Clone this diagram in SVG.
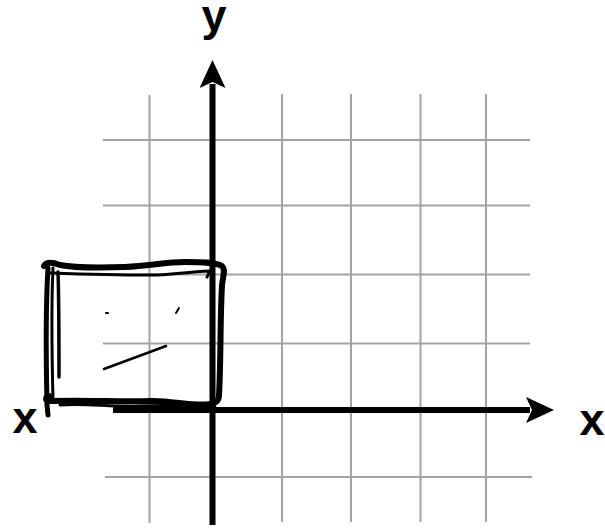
<svg xmlns="http://www.w3.org/2000/svg" width="605" height="529" viewBox="0 0 605 529">
<style>
.grid line{stroke:#a3a3a3;stroke-width:2}
.axis{stroke:#000;stroke-width:6;fill:none}
.lbl{font-family:"Liberation Sans",Arial,sans-serif;font-weight:bold;font-size:45px;fill:#000;text-anchor:middle}
.ink{fill:none;stroke:#000;stroke-linecap:round;stroke-linejoin:round}
</style>
<defs>
<marker id="ah" viewBox="0 0 28 26" refX="4" refY="13" markerWidth="28" markerHeight="26" markerUnits="userSpaceOnUse" orient="auto">
<path d="M0,0 L28,13 L0,26 L6,13 Z" fill="#000"/>
</marker>
</defs>
<rect width="605" height="529" fill="#fff"/>
<g id="grid" class="grid">
<line x1="149.5" y1="95" x2="149.5" y2="523"/>
<line x1="282" y1="94" x2="282" y2="522"/>
<line x1="351" y1="94" x2="351" y2="522"/>
<line x1="420.5" y1="94" x2="420.5" y2="522"/>
<line x1="486" y1="94" x2="486" y2="522"/>
<line x1="103" y1="140" x2="530" y2="140"/>
<line x1="103" y1="205.5" x2="530" y2="205.5"/>
<line x1="103" y1="274.5" x2="530" y2="274.5"/>
<line x1="103" y1="343.5" x2="530" y2="343.5"/>
<line x1="105" y1="477" x2="532" y2="477"/>
</g>
<g id="connectors">
<line class="axis" x1="212.5" y1="525" x2="212.5" y2="84" marker-end="url(#ah)"/>
<line class="axis" x1="113" y1="410" x2="530" y2="410" marker-end="url(#ah)"/>
</g>
<g id="label-y"><text class="lbl" x="214" y="31">y</text></g>
<g id="label-x-right"><text class="lbl" x="592" y="435">x</text></g>
<g id="label-x-left"><text class="lbl" x="25" y="433">x</text></g>
<g id="sketch-box">
<path class="ink" stroke-width="6" d="M44,266 C46,262 52,262 60,265 C75,268 95,268 125,267 C150,266 165,262 185,262 C200,262 215,262 222,266 C226,270 223,275 222,285 C220,320 221,360 219,395 C219,400 217,403 210,404 C195,407 170,400 150,401 C120,402 90,400 50,401 C44,401 46,396 49,396"/>
<path class="ink" stroke-width="3" d="M50,273 C80,274 120,275 150,275 C170,275 185,272 210,271 M210,271 L207,277"/>
<path class="ink" stroke-width="5" d="M48,268 C46,300 46,360 47,405 L48,415"/>
<path class="ink" stroke-width="3" d="M53,268 C51,310 52,360 53,400"/>
<path class="ink" stroke-width="3.5" d="M58,272 C59,300 59,340 59,377"/>
<path class="ink" stroke-width="3" d="M60,405 C85,403 110,407 140,406 C170,405 195,406 215,407"/>
<circle cx="48" cy="399" r="4.5" fill="#000"/>
<path class="ink" stroke-width="2" d="M106,313 L108,313"/>
<path class="ink" stroke-width="2" d="M179,308 L176,313"/>
<path class="ink" stroke-width="2.5" d="M104,369 L166,346"/>
</g>
</svg>
